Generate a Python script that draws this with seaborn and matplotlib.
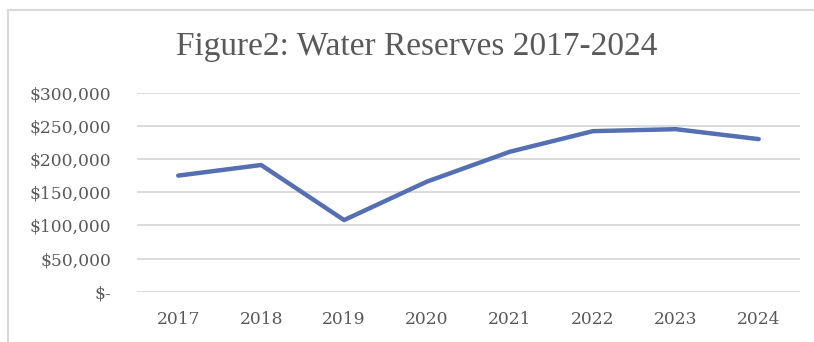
import matplotlib
matplotlib.use("Agg")
import matplotlib.pyplot as plt
import seaborn as sns
import pandas as pd
from matplotlib.ticker import FuncFormatter
from matplotlib.patches import Rectangle

years = ["2017", "2018", "2019", "2020", "2021", "2022", "2023", "2024"]
reserves = [175000, 191000, 108000, 166000, 211000, 242000, 245000, 230000]
title = "Figure2: Water Reserves 2017-2024"

df = pd.DataFrame({"year": years, "reserves": reserves})

sns.set_theme(style="white")
plt.rcParams["font.family"] = ["Liberation Serif", "DejaVu Serif"]

fig = plt.figure(figsize=(8.14, 3.42), dpi=100)
ax = fig.add_axes([0.168, 0.147, 0.815, 0.582])

sns.lineplot(data=df, x="year", y="reserves", ax=ax, color="#5470B3",
             linewidth=3.2, sort=False)

ax.set_xlim(-0.5, len(years) - 0.5)
ax.set_ylim(0, 300000)
ax.set_yticks(range(0, 300001, 50000))
ax.yaxis.set_major_formatter(FuncFormatter(lambda v, p: "$-" if v == 0 else f"${v:,.0f}"))
ax.grid(axis="y", color="#d9d9d9", linewidth=1.3)
ax.set_axisbelow(True)
for s in ax.spines.values():
    s.set_visible(False)
ax.set_xlabel("")
ax.set_ylabel("")
ax.tick_params(axis="y", labelcolor="#595959", pad=18.5, length=0)
ax.tick_params(axis="x", labelcolor="#595959", pad=14, length=0)
for lab in ax.get_xticklabels() + ax.get_yticklabels():
    lab.set_fontfamily("DejaVu Serif")
    lab.set_fontsize(12.3)

fig.text(0.512, 0.862, title, ha="center", va="center", fontsize=24, color="#595959")

fig.patches.append(Rectangle((0.010, -0.01), 1.0, 0.98, transform=fig.transFigure,
                             fill=False, edgecolor="#d9d9d9", linewidth=1.5))

fig.savefig("out.png", dpi=100)
